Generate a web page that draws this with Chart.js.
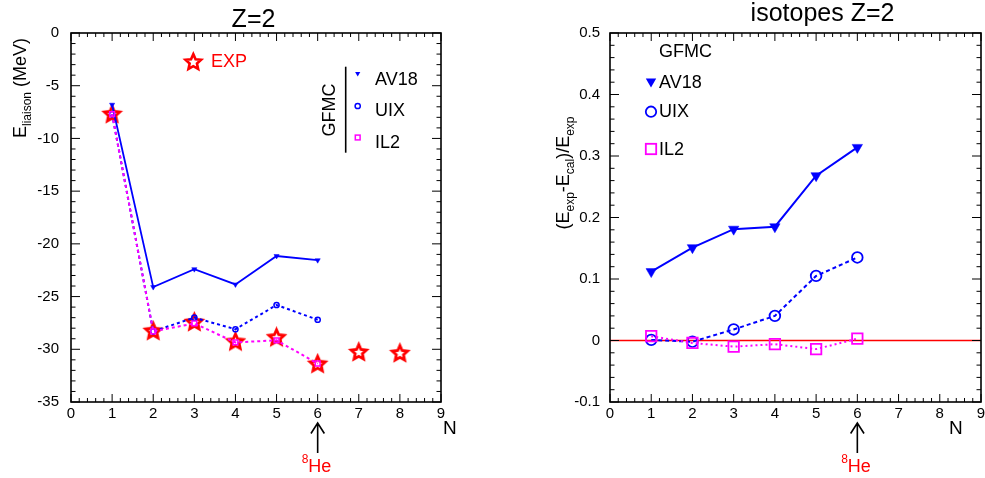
<!DOCTYPE html>
<html><head><meta charset="utf-8">
<script src="https://cdn.jsdelivr.net/npm/chart.js@4.4.0/dist/chart.umd.min.js"></script>
<style>
html,body{margin:0;padding:0;background:#fff;overflow:hidden}
#wrap{position:relative;width:985px;height:478px;background:#fff;overflow:hidden}
canvas{position:absolute;left:0;top:0}
</style></head><body>
<div id="wrap"><canvas id="c1" width="985" height="478"></canvas><canvas id="c2" width="1000" height="478"></canvas></div>
<script>
// ---------------- data ----------------
const nTheory = [1, 2, 3, 4, 5, 6];
const nExp = [1, 2, 3, 4, 5, 6, 7, 8];
const expE = [-7.72, -28.30, -27.45, -29.30, -28.90, -31.42, -30.30, -30.40];
const av18E = [-6.8, -24.1, -22.4, -23.85, -21.15, -21.55];
const uixE = [-7.7, -28.3, -27.0, -28.1, -25.8, -27.2];
const il2E = [-7.7, -28.3, -27.55, -29.35, -29.15, -31.35];
const av18Rel = [0.112, 0.151, 0.181, 0.185, 0.268, 0.314];
const uixRel = [0.001, -0.002, 0.018, 0.040, 0.105, 0.135];
const il2Rel = [0.007, -0.004, -0.010, -0.006, -0.014, 0.003];
const zeroLineN = [0, 9];
const zeroLineV = [0, 0];
const xTickVals = [0, 1, 2, 3, 4, 5, 6, 7, 8, 9];
const xTickLabels = ['0', '1', '2', '3', '4', '5', '6', '7', '8', '9'];
const leftYTickVals = [0, -5, -10, -15, -20, -25, -30, -35];
const leftYTickLabels = ['0', '-5', '-10', '-15', '-20', '-25', '-30', '-35'];
const rightYTickVals = [0.5, 0.4, 0.3, 0.2, 0.1, 0, -0.1];
const rightYTickLabels = ['0.5', '0.4', '0.3', '0.2', '0.1', '0', '-0.1'];

const FONT = "'Liberation Sans', Arial, sans-serif";
const BLUE = '#0000ff', MAG = '#ff00ff', RED = '#ff0000';

function pts(xs, ys) { return xs.map((x, i) => ({x: x, y: ys[i]})); }

function starPath(g, cx, cy, r, inner) {
  g.beginPath();
  for (let i = 0; i < 10; i++) {
    const rr = i % 2 ? r * inner : r;
    const a = -Math.PI / 2 + i * Math.PI / 5;
    g.lineTo(cx + rr * Math.cos(a), cy + rr * Math.sin(a));
  }
  g.closePath();
}
function starImg(r, lw) {
  const c = document.createElement('canvas');
  const s = Math.ceil(2 * r + lw + 4);
  c.width = c.height = s;
  const g = c.getContext('2d');
  starPath(g, s / 2, s / 2, r, 0.47);
  g.strokeStyle = RED; g.lineWidth = lw; g.lineJoin = 'miter';
  g.stroke();
  return c;
}
const STAR = starImg(8, 2.8);

function labelFor(vals, labels) {
  return function (v) {
    for (let i = 0; i < vals.length; i++) if (Math.abs(vals[i] - v) < 1e-9) return labels[i];
    return '';
  };
}

function makeScales(o) {
  return {
    x: {
      type: 'linear', min: 0, max: 9,
      afterBuildTicks(s) { s.ticks = xTickVals.map(v => ({value: v})); },
      ticks: {font: {family: FONT, size: 15}, color: '#000', padding: 3, maxRotation: 0, autoSkip: false,
        callback: labelFor(xTickVals, xTickLabels)},
      grid: {display: false, drawTicks: false}, border: {display: false},
      afterFit(s) { s.height = 478 - 402; s.paddingLeft = 0; s.paddingRight = 0; }
    },
    y: {
      type: 'linear', min: o.ymin, max: o.ymax,
      afterBuildTicks(s) { s.ticks = o.yvals.map(v => ({value: v})); },
      ticks: {font: {family: FONT, size: 15}, color: '#000', padding: o.ypad, autoSkip: false,
        callback: labelFor(o.yvals, o.ylabels)},
      grid: {display: false, drawTicks: false}, border: {display: false},
      afterFit(s) { s.width = o.yw; s.paddingTop = 0; s.paddingBottom = 0; }
    }
  };
}

// frame + inward ticks on all 4 sides
const framePlugin = {
  id: 'frame',
  afterDraw(chart, args, opts) {
    const ctx = chart.ctx, a = chart.chartArea, xs = chart.scales.x, ys = chart.scales.y;
    ctx.save();
    ctx.strokeStyle = '#000';
    ctx.lineWidth = 1;
    ctx.beginPath();
    const nx = Math.round((xs.max - xs.min) / opts.xMinor);
    for (let i = 0; i <= nx; i++) {
      const v = xs.min + i * opts.xMinor;
      const px = xs.getPixelForValue(v);
      const major = i % opts.xSub === 0;
      const L = major ? 8 : 4;
      ctx.moveTo(px, a.bottom); ctx.lineTo(px, a.bottom - L);
      ctx.moveTo(px, a.top); ctx.lineTo(px, a.top + L);
    }
    const ny = Math.round((ys.max - ys.min) / opts.yMinor);
    for (let i = 0; i <= ny; i++) {
      const v = ys.min + i * opts.yMinor;
      const py = ys.getPixelForValue(v);
      const major = i % opts.ySub === 0;
      const L = major ? 9 : 4.5;
      ctx.moveTo(a.left, py); ctx.lineTo(a.left + L, py);
      ctx.moveTo(a.right, py); ctx.lineTo(a.right - L, py);
    }
    ctx.stroke();
    ctx.lineWidth = 1.6;
    ctx.strokeRect(a.left, a.top, a.right - a.left, a.bottom - a.top);
    ctx.restore();
    if (opts.extra) opts.extra(chart, ctx);
  }
};

function rich(ctx, parts, x, y, rot, color) {
  ctx.save();
  ctx.translate(x, y);
  if (rot) ctx.rotate(-Math.PI / 2);
  ctx.fillStyle = color || '#000';
  ctx.textBaseline = 'alphabetic';
  ctx.textAlign = 'left';
  let w = 0;
  parts.forEach(p => { ctx.font = p.size + 'px ' + FONT; p.w = ctx.measureText(p.t).width; w += p.w; });
  let cx = -w / 2;
  parts.forEach(p => { ctx.font = p.size + 'px ' + FONT; ctx.fillText(p.t, cx, p.dy || 0); cx += p.w; });
  ctx.restore();
}
function text(ctx, t, x, y, size, color, align, base) {
  ctx.save();
  ctx.font = size + 'px ' + FONT;
  ctx.fillStyle = color || '#000';
  ctx.textAlign = align || 'left';
  ctx.textBaseline = base || 'alphabetic';
  ctx.fillText(t, x, y);
  ctx.restore();
}
function arrowAndLabel(chart, ctx) {
  const px = chart.scales.x.getPixelForValue(6);
  ctx.save();
  ctx.strokeStyle = '#000'; ctx.lineWidth = 1.6;
  ctx.beginPath();
  ctx.moveTo(px, 453); ctx.lineTo(px, 423);
  ctx.moveTo(px - 6.7, 433.5); ctx.lineTo(px, 423); ctx.lineTo(px + 6.7, 433.5);
  ctx.stroke();
  ctx.restore();
  text(ctx, '8', px - 16, 463, 12, RED);
  text(ctx, 'He', px - 9.5, 471.5, 18, RED);
}
function triDown(ctx, x, y, r, color) {
  ctx.save(); ctx.fillStyle = color; ctx.beginPath();
  ctx.moveTo(x, y + r); ctx.lineTo(x - r * 0.866, y - r / 2); ctx.lineTo(x + r * 0.866, y - r / 2);
  ctx.closePath(); ctx.fill(); ctx.restore();
}
function circ(ctx, x, y, r, color, lw) {
  ctx.save(); ctx.strokeStyle = color; ctx.lineWidth = lw; ctx.beginPath();
  ctx.arc(x, y, r, 0, Math.PI * 2); ctx.stroke(); ctx.restore();
}
function sq(ctx, x, y, h, color, lw) {
  ctx.save(); ctx.strokeStyle = color; ctx.lineWidth = lw;
  ctx.strokeRect(x - h, y - h, 2 * h, 2 * h); ctx.restore();
}

function leftExtra(chart, ctx) {
  text(ctx, 'Z=2', 253.5, 26.5, 25, '#000', 'center');
  rich(ctx, [{t: 'E', size: 18}, {t: 'liaison', size: 12, dy: 5}, {t: ' (MeV)', size: 18}], 25.5, 88, true);
  text(ctx, 'N', 443, 433.5, 19);
  arrowAndLabel(chart, ctx);
  // EXP legend
  ctx.save(); starPath(ctx, 193.3, 62.3, 8.2, 0.47); ctx.strokeStyle = RED; ctx.lineWidth = 2.6; ctx.stroke(); ctx.restore();
  text(ctx, 'EXP', 211, 62.5, 18, RED, 'left', 'middle');
  // GFMC legend
  rich(ctx, [{t: 'GFMC', size: 18}], 334.5, 110, true);
  ctx.save(); ctx.strokeStyle = '#000'; ctx.lineWidth = 1.6; ctx.beginPath();
  ctx.moveTo(345.7, 66.7); ctx.lineTo(345.7, 152.7); ctx.stroke(); ctx.restore();
  triDown(ctx, 357.7, 73.5, 3, BLUE);
  circ(ctx, 357.7, 106, 2.6, BLUE, 1.5);
  sq(ctx, 357.7, 137.5, 2.4, MAG, 1.5);
  text(ctx, 'AV18', 375, 80, 18, '#000', 'left', 'middle');
  text(ctx, 'UIX', 375, 111, 18, '#000', 'left', 'middle');
  text(ctx, 'IL2', 375, 143, 18, '#000', 'left', 'middle');
}
function rightExtra(chart, ctx) {
  text(ctx, 'isotopes Z=2', 822.5, 20.7, 25, '#000', 'center');
  rich(ctx, [{t: '(E', size: 18}, {t: 'exp', size: 12, dy: 5}, {t: '-E', size: 18}, {t: 'cal', size: 12, dy: 5},
    {t: ')/E', size: 18}, {t: 'exp', size: 12, dy: 5}], 568.5, 173, true);
  text(ctx, 'N', 949, 433.5, 19);
  arrowAndLabel(chart, ctx);
  text(ctx, 'GFMC', 659, 52, 18, '#000', 'left', 'middle');
  triDown(ctx, 651, 81.5, 6, BLUE);
  circ(ctx, 651, 111.7, 5.2, BLUE, 1.8);
  sq(ctx, 651, 149, 5.2, MAG, 1.8);
  text(ctx, 'AV18', 659, 83, 18, '#000', 'left', 'middle');
  text(ctx, 'UIX', 659, 112.5, 18, '#000', 'left', 'middle');
  text(ctx, 'IL2', 659, 150, 18, '#000', 'left', 'middle');
}

Chart.register(framePlugin);
const common = {responsive: false, animation: false, devicePixelRatio: 1, events: []};

new Chart(document.getElementById('c1'), {
  type: 'scatter',
  data: {datasets: [
    {label: 'EXP', data: pts(nExp, expE), showLine: false, pointStyle: STAR, pointRadius: 8, order: 10},
    {label: 'AV18', data: pts(nTheory, av18E), showLine: true, borderColor: BLUE, borderWidth: 1.8,
      pointStyle: 'triangle', rotation: 180, pointRadius: 3, backgroundColor: BLUE, pointBorderColor: BLUE, pointBorderWidth: 0.5, order: 1},
    {label: 'UIX', data: pts(nTheory, uixE), showLine: true, borderColor: BLUE, borderWidth: 2, borderDash: [3, 3],
      pointStyle: 'circle', pointRadius: 2.6, pointBorderWidth: 1.5, pointBorderColor: BLUE, pointBackgroundColor: 'rgba(0,0,0,0)', order: 2},
    {label: 'IL2', data: pts(nTheory, il2E), showLine: true, borderColor: MAG, borderWidth: 2, borderDash: [3, 3],
      pointStyle: 'rect', pointRadius: 3.4, pointBorderWidth: 1.5, pointBorderColor: MAG, pointBackgroundColor: 'rgba(0,0,0,0)', order: 0}
  ]},
  options: Object.assign({}, common, {
    layout: {padding: {left: 0, top: 33, right: 985 - 441, bottom: 0}},
    scales: makeScales({ymin: -35, ymax: 0, yvals: leftYTickVals, ylabels: leftYTickLabels, yw: 71, ypad: 12}),
    plugins: {legend: {display: false}, tooltip: {enabled: false},
      frame: {xMinor: 0.2, xSub: 5, yMinor: 1, ySub: 5, extra: leftExtra}}
  })
});

new Chart(document.getElementById('c2'), {
  type: 'scatter',
  data: {datasets: [
    {label: 'zero', data: pts(zeroLineN, zeroLineV), showLine: true, borderColor: RED, borderWidth: 1.6, pointRadius: 0, order: 10},
    {label: 'AV18', data: pts(nTheory, av18Rel), showLine: true, borderColor: BLUE, borderWidth: 2,
      pointStyle: 'triangle', rotation: 180, pointRadius: 6, backgroundColor: BLUE, pointBorderColor: BLUE, pointBorderWidth: 0.5, order: 1},
    {label: 'UIX', data: pts(nTheory, uixRel), showLine: true, borderColor: BLUE, borderWidth: 2, borderDash: [4, 3],
      pointStyle: 'circle', pointRadius: 5.3, pointBorderWidth: 1.8, pointBorderColor: BLUE, pointBackgroundColor: 'rgba(0,0,0,0)', order: 2},
    {label: 'IL2', data: pts(nTheory, il2Rel), showLine: true, borderColor: MAG, borderWidth: 2, borderDash: [2, 3],
      pointStyle: 'rect', pointRadius: 7.4, pointBorderWidth: 1.8, pointBorderColor: MAG, pointBackgroundColor: 'rgba(0,0,0,0)', order: 0}
  ]},
  options: Object.assign({}, common, {
    layout: {padding: {left: 0, top: 33, right: 1000 - 981, bottom: 0}},
    scales: makeScales({ymin: -0.1, ymax: 0.5, yvals: rightYTickVals, ylabels: rightYTickLabels, yw: 610, ypad: 10}),
    plugins: {legend: {display: false}, tooltip: {enabled: false},
      frame: {xMinor: 0.2, xSub: 5, yMinor: 0.02, ySub: 5, extra: rightExtra}}
  })
});
</script>
</body></html>
